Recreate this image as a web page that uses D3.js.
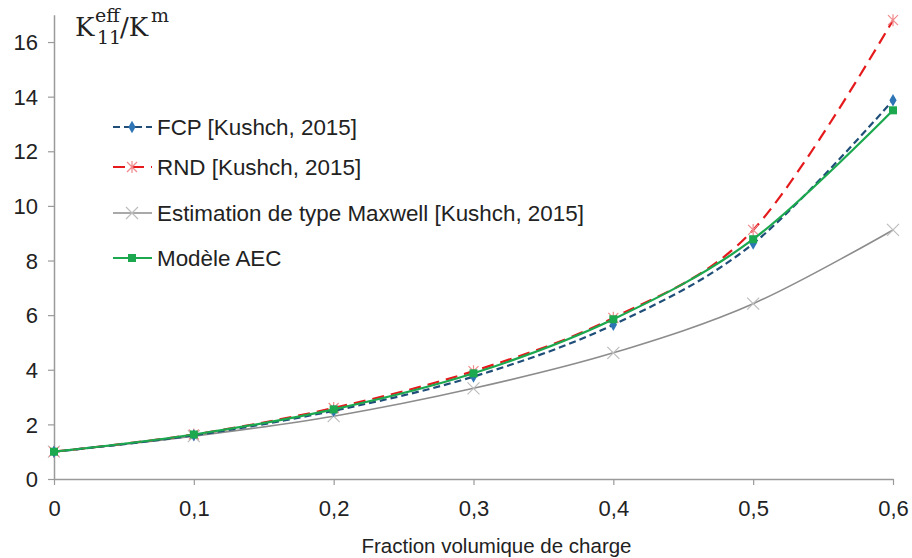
<!DOCTYPE html>
<html>
<head>
<meta charset="utf-8">
<script src="https://cdn.jsdelivr.net/npm/d3@7"></script>
<style>
  body { margin: 0; background: #fff; }
  svg text { font-family: "Liberation Sans", Arial, sans-serif; fill: #222; }
</style>
</head>
<body>
<div id="chart"></div>
<script>
// fractions volumiques (axe x)
const fractions = [0, 0.1, 0.2, 0.3, 0.4, 0.5, 0.6]
const xTicks = [0, 0.1, 0.2, 0.3, 0.4, 0.5, 0.6]
const yTicks = [0, 2, 4, 6, 8, 10, 12, 14, 16]

// valeurs
const fcp = [1, 1.6, 2.5, 3.75, 5.65, 8.62, 13.87]
const rnd = [1, 1.63, 2.6, 3.95, 5.9, 9.12, 16.8]
const maxwell = [1, 1.57, 2.3, 3.32, 4.62, 6.42, 9.12]
const aec = [1, 1.63, 2.55, 3.87, 5.85, 8.78, 13.5]

const seriesNames = ['FCP [Kushch, 2015]', 'RND [Kushch, 2015]',
  'Estimation de type Maxwell [Kushch, 2015]', 'Modèle AEC']

const series = [
  { name: seriesNames[0], values: fcp, color: '#1F4E79', marker: 'diamond', mColor: '#2E75B6', dash: '7,4', width: 2.2 },
  { name: seriesNames[1], values: rnd, color: '#E41A1C', marker: 'star', mColor: '#F08A8C', dash: '12,7', width: 2.2 },
  { name: seriesNames[2], values: maxwell, color: '#8C8C8C', marker: 'cross', mColor: '#BDBDBD', dash: null, width: 1.6 },
  { name: seriesNames[3], values: aec, color: '#1BA84E', marker: 'square', mColor: '#1BA84E', dash: null, width: 2.2 }
]

const width = 912
const height = 558
const svg = d3.select('#chart').append('svg')
  .attr('width', width)
  .attr('height', height)

// zone du graphique
const left = 54
const right = 893
const bottom = 479

const xScale = d3.scaleLinear().domain([0, 0.6]).range([left, right])
const yScale = d3.scaleLinear().domain([0, 17]).range([bottom, bottom - 17 * 27.31])

const fmt = (d) => d === 0 ? '0' : d3.format('.1f')(d).replace('.', ',')

// axe x
const xAxis = d3.axisBottom(xScale).tickValues(xTicks).tickFormat(fmt).tickSize(6).tickSizeOuter(0)
const gx = svg.append('g')
  .attr('transform', `translate(0, ${bottom})`)
  .call(xAxis)
gx.select('.domain').attr('stroke', '#9a9a9a').attr('stroke-width', 1.5)
gx.selectAll('.tick line').attr('stroke', '#9a9a9a').attr('stroke-width', 1.2)
gx.selectAll('.tick text').attr('font-size', 22).attr('y', 21).attr('dy', '0.71em').attr('fill', '#222')

// axe y
const yAxis = d3.axisLeft(yScale).tickValues(yTicks).tickFormat(d3.format('d')).tickSize(6).tickSizeOuter(0)
const gy = svg.append('g')
  .attr('transform', `translate(${left}, 0)`)
  .call(yAxis)
gy.select('.domain').attr('stroke', '#9a9a9a').attr('stroke-width', 1.5)
gy.selectAll('.tick line').attr('stroke', '#9a9a9a').attr('stroke-width', 1.2)
gy.selectAll('.tick text').attr('font-size', 22).attr('x', -16).attr('dy', '0.35em').attr('fill', '#222')

// titre de l'axe x
svg.append('text')
  .attr('x', (left + right) / 2 + 23)
  .attr('y', 553)
  .attr('text-anchor', 'middle')
  .attr('font-size', 20.5)
  .text('Fraction volumique de charge')

// étiquette de l'axe y : K11eff / Km
const serif = '"DejaVu Serif", "Liberation Serif", serif'
const ylab = svg.append('g')
const lab = (x, y, size, txt) => ylab.append('text')
  .attr('x', x).attr('y', y).attr('font-size', size)
  .style('font-family', serif).text(txt)
lab(75, 36, 26, 'K')
lab(95, 22, 19, 'eff')
lab(97, 44, 19, '11')
lab(120, 36, 26, '/K')
lab(151, 22, 19, 'm')

const line = d3.line()
  .x((d, i) => xScale(fractions[i]))
  .y((d) => yScale(d))
  .curve(d3.curveCatmullRom.alpha(0))

function drawMarker(g, type, x, y, color) {
  if (type === 'diamond') {
    g.append('path')
      .attr('d', d3.symbol(d3.symbolDiamond, 45)())
      .attr('transform', `translate(${x},${y})`)
      .attr('fill', color)
  } else if (type === 'square') {
    g.append('rect')
      .attr('x', x - 4).attr('y', y - 4)
      .attr('width', 8).attr('height', 8)
      .attr('fill', color)
  } else if (type === 'cross') {
    g.append('path')
      .attr('d', `M${x - 6},${y - 6}L${x + 6},${y + 6}M${x - 6},${y + 6}L${x + 6},${y - 6}`)
      .attr('stroke', color).attr('stroke-width', 1.2)
  } else if (type === 'star') {
    g.append('path')
      .attr('d', `M${x - 5},${y - 5}L${x + 5},${y + 5}M${x - 5},${y + 5}L${x + 5},${y - 5}M${x},${y - 6}L${x},${y + 6}`)
      .attr('stroke', color).attr('stroke-width', 1.2)
  }
}

// ordre de tracé : Maxwell, RND, FCP, AEC
const drawOrder = [2, 1, 0, 3]
drawOrder.forEach((k) => {
  const s = series[k]
  svg.append('path')
    .datum(s.values)
    .attr('d', line)
    .attr('fill', 'none')
    .attr('stroke', s.color)
    .attr('stroke-width', s.width)
    .attr('stroke-dasharray', s.dash)
  const gm = svg.append('g')
  s.values.forEach((v, i) => drawMarker(gm, s.marker, xScale(fractions[i]), yScale(v), s.mColor))
})

// légende
const legendY = [127, 167, 213, 258]
series.forEach((s, i) => {
  const g = svg.append('g')
  const y = legendY[i]
  g.append('line')
    .attr('x1', 113).attr('x2', 152)
    .attr('y1', y).attr('y2', y)
    .attr('stroke', s.color)
    .attr('stroke-width', s.width)
    .attr('stroke-dasharray', s.dash ? (i === 1 ? '12,7' : '7,4') : null)
  drawMarker(g, s.marker, 132, y, s.mColor)
  g.append('text')
    .attr('x', 157)
    .attr('y', y)
    .attr('dy', '0.35em')
    .attr('font-size', 22.4)
    .text(s.name)
})
</script>
</body>
</html>
